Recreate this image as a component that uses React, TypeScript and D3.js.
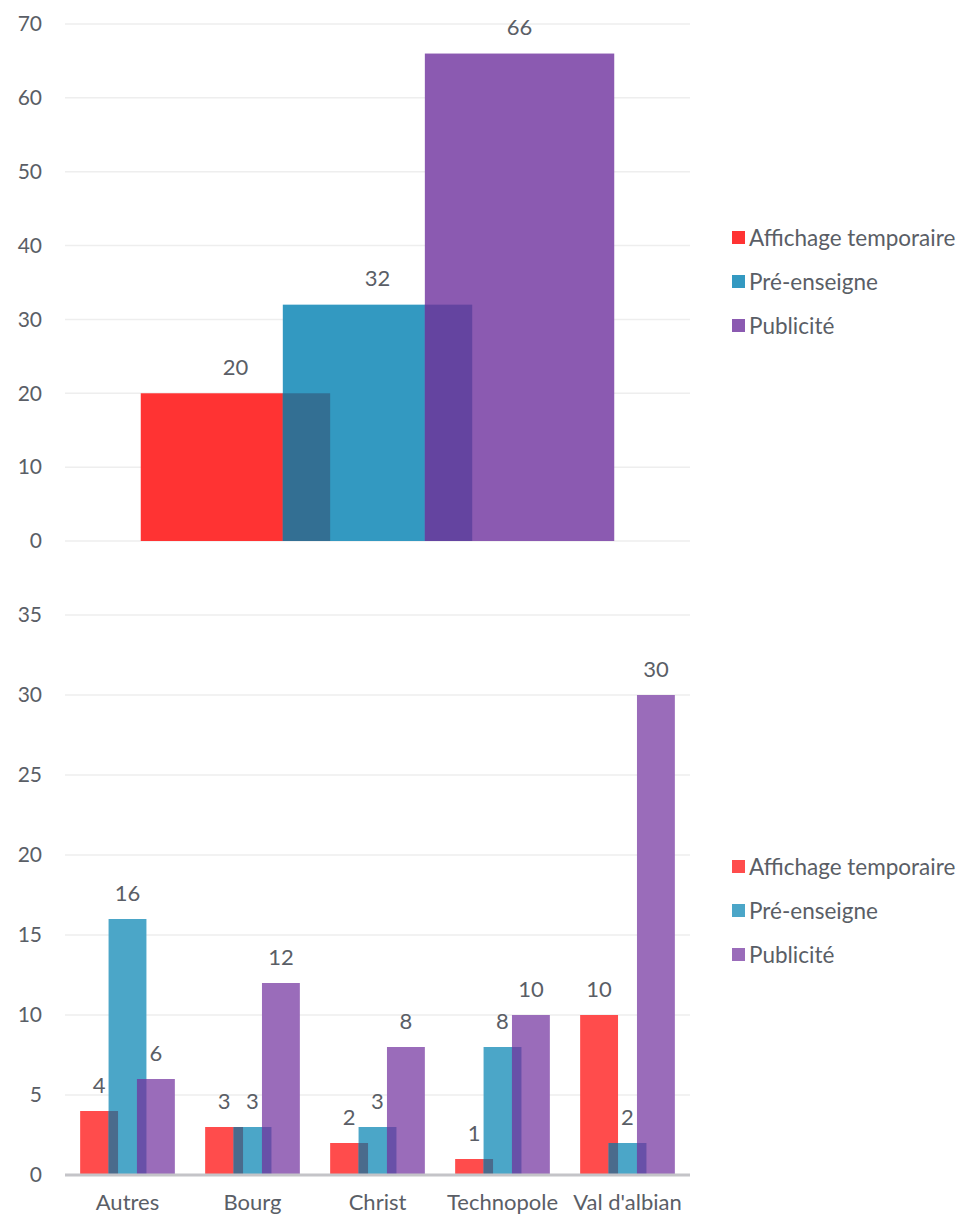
import React from "react";
import * as d3 from "d3";

// Series shared by both charts
const seriesNames = ["Affichage temporaire", "Pré-enseigne", "Publicité"];

// Top chart: overall totals (single unnamed group)
const totalCategories = [""];
const totalAffichage = [20];
const totalPreEnseigne = [32];
const totalPublicite = [66];
const totalTicks = [0, 10, 20, 30, 40, 50, 60, 70];

// Bottom chart: breakdown by site
const siteCategories = ["Autres", "Bourg", "Christ", "Technopole", "Val d'albian"];
const siteAffichage = [4, 3, 2, 1, 10];
const sitePreEnseigne = [16, 3, 3, 8, 2];
const sitePublicite = [6, 12, 8, 10, 30];
const siteTicks = [0, 5, 10, 15, 20, 25, 30, 35];

const FONT = "Lato, 'Open Sans', sans-serif";
const TEXT = "#5A5E66";

type Palette = { fills: string[]; overlaps: string[] };

const topPalette: Palette = {
  fills: ["#FF3333", "#3399C1", "#8B5AB1"],
  overlaps: ["#336F93", "#6444A0"],
};
const bottomPalette: Palette = {
  fills: ["#FF4C4C", "#4BA6C8", "#9A6CBA"],
  overlaps: ["#4A6B8C", "#6850A8"],
};

type ChartProps = {
  categories: string[];
  series: number[][];
  ticks: number[];
  yTop: number;
  yBottom: number;
  palette: Palette;
  legendY: number;
  showAxis: boolean;
};

function Chart({ categories, series, ticks, yTop, yBottom, palette, legendY, showAxis }: ChartProps) {
  const x0 = 65;
  const x1 = 690;
  const y = d3
    .scaleLinear()
    .domain([0, ticks[ticks.length - 1]])
    .range([yBottom, yTop]);
  const band = d3.scaleBand<string>().domain(categories).range([x0, x1]).padding(0);
  // gap width 80%, overlap 25%
  const w = band.bandwidth() / 3.3;
  const step = 0.75 * w;
  const barX = (c: string, i: number) => (band(c) as number) + 0.4 * w + i * step;

  return (
    <g>
      {ticks.map((t) => (
        <g key={t}>
          {!(showAxis && t === 0) && (
            <line x1={x0} x2={x1} y1={y(t)} y2={y(t)} stroke="#EEEEEE" strokeWidth={1.5} />
          )}
          <text
            x={42}
            y={y(t)}
            dy="0.35em"
            textAnchor="end"
            fontFamily={FONT}
            fontSize={21}
            fill={TEXT}
          >
            {t}
          </text>
        </g>
      ))}
      {series.map((vals, si) =>
        categories.map((c, ci) => (
          <rect
            key={`b${si}-${ci}`}
            x={barX(c, si)}
            y={y(vals[ci])}
            width={w}
            height={y(0) - y(vals[ci])}
            fill={palette.fills[si]}
          />
        ))
      )}
      {[0, 1].map((si) =>
        categories.map((c, ci) => {
          const h = Math.min(series[si][ci], series[si + 1][ci]);
          return (
            <rect
              key={`o${si}-${ci}`}
              x={barX(c, si + 1)}
              y={y(h)}
              width={w - step}
              height={y(0) - y(h)}
              fill={palette.overlaps[si]}
            />
          );
        })
      )}
      {series.map((vals, si) =>
        categories.map((c, ci) => (
          <text
            key={`l${si}-${ci}`}
            x={barX(c, si) + w / 2}
            y={y(vals[ci]) - 26}
            dy="0.35em"
            textAnchor="middle"
            fontFamily={FONT}
            fontSize={22}
            fill={TEXT}
          >
            {vals[ci]}
          </text>
        ))
      )}
      {showAxis && (
        <line x1={x0} x2={x1} y1={y(0)} y2={y(0)} stroke="#C4C4C8" strokeWidth={3} />
      )}
      {showAxis &&
        categories.map((c) => (
          <text
            key={`c${c}`}
            x={(band(c) as number) + band.bandwidth() / 2}
            y={yBottom + 35}
            textAnchor="middle"
            fontFamily={FONT}
            fontSize={22}
            fill={TEXT}
          >
            {c}
          </text>
        ))}
      {seriesNames.map((name, i) => (
        <g key={name} transform={`translate(732, ${legendY + i * 44})`}>
          <rect x={0} y={-7} width={13} height={13} fill={palette.fills[i]} />
          <text x={17} y={0} dy="0.35em" fontFamily={FONT} fontSize={22.5} fill={TEXT}>
            {name}
          </text>
        </g>
      ))}
    </g>
  );
}

export default function App() {
  return (
    <svg
      width={960}
      height={1217}
      style={{ position: "absolute", left: 0, top: 0, background: "#fff" }}
    >
      <rect width={960} height={1217} fill="#fff" />
      <Chart
        categories={totalCategories}
        series={[totalAffichage, totalPreEnseigne, totalPublicite]}
        ticks={totalTicks}
        yTop={24}
        yBottom={541}
        palette={topPalette}
        legendY={238}
        showAxis={false}
      />
      <Chart
        categories={siteCategories}
        series={[siteAffichage, sitePreEnseigne, sitePublicite]}
        ticks={siteTicks}
        yTop={615}
        yBottom={1175}
        palette={bottomPalette}
        legendY={867}
        showAxis={true}
      />
    </svg>
  );
}
